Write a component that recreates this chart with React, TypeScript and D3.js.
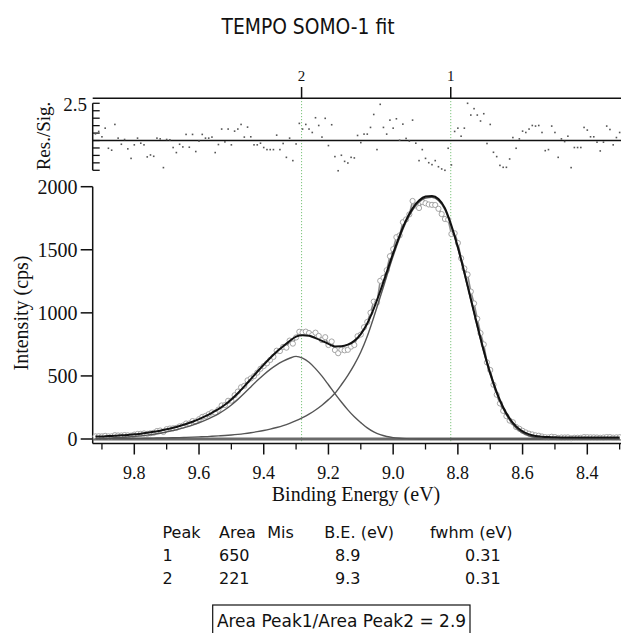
import React from 'react';
import * as d3 from 'd3';

const W = 621;
const H = 633;

// component fits on a 0.02 eV grid, from 9.92 eV down to 8.30 eV
const compStart = 9.92;
const compStep = 0.02;
const peak1Comp = [
  2, 2, 3, 3, 4, 4, 5, 5, 6, 7, 8, 9, 10, 11, 13, 15, 17, 19, 22, 25,
  28, 32, 37, 43, 50, 58, 67, 78, 91, 106, 124, 145, 170, 198, 230, 268, 312, 362, 430, 505,
  590, 690, 815, 965, 1125, 1290, 1450, 1595, 1720, 1815, 1878, 1910, 1915, 1890, 1818, 1680, 1510, 1310, 1100, 890,
  690, 510, 360, 240, 150, 88, 48, 25, 12, 6, 3, 1, 0, 0, 0, 0, 0, 0, 0, 0,
  0, 0,
];
const peak2Comp = [
  5, 6, 8, 10, 13, 16, 20, 25, 31, 38, 46, 56, 67, 80, 94, 110, 129, 150, 174, 200,
  232, 270, 314, 362, 413, 463, 510, 552, 588, 617, 640, 655, 641, 608, 558, 498, 430, 360, 293, 231,
  176, 130, 88, 56, 34, 20, 11, 6, 3, 1, 0, 0, 0, 0, 0, 0, 0, 0, 0, 0,
  0, 0, 0, 0, 0, 0, 0, 0, 0, 0, 0, 0, 0, 0, 0, 0, 0, 0, 0, 0,
  0, 0,
];
const background = 12;

// measured spectrum on a 0.01 eV grid, from 9.92 eV down to 8.30 eV
const dataStart = 9.92;
const dataStep = 0.01;
const intensity = [
  21, 22, 21, 25, 21, 21, 30, 28, 28, 31,
  29, 27, 35, 40, 41, 44, 41, 46, 49, 63,
  67, 56, 78, 83, 85, 88, 100, 106, 123, 123,
  142, 139, 157, 175, 183, 197, 211, 210, 233, 266,
  269, 303, 304, 347, 376, 410, 422, 465, 480, 498,
  526, 557, 578, 600, 627, 651, 700, 697, 730, 724,
  780, 756, 805, 850, 845, 851, 840, 824, 843, 817,
  784, 807, 745, 773, 705, 680, 708, 703, 707, 732,
  745, 815, 828, 886, 928, 1001, 1089, 1082, 1254, 1278,
  1338, 1449, 1505, 1600, 1614, 1719, 1741, 1780, 1887, 1851,
  1831, 1879, 1869, 1859, 1856, 1855, 1825, 1783, 1744, 1739,
  1625, 1631, 1554, 1433, 1352, 1304, 1169, 1075, 953, 839,
  750, 607, 547, 430, 351, 282, 223, 181, 146, 133,
  95, 81, 65, 52, 42, 36, 29, 26, 20, 14,
  13, 18, 15, 9, 12, 12, 13, 6, 10, 10,
  10, 15, 14, 13, 13, 12, 10, 12, 15, 15,
  11, 13, 14,
];
const residuals = [
  0.45, 0.61, 0.25, 0.83, -0.52, -0.65, 1.08, 0.16, -0.25, 0.07,
  -0.56, -1.2, -0.29, 0.16, -0.18, -0.29, -1.1, -0.97, -1.06, 0.16,
  0.11, -1.82, 0.07, 0.05, -0.47, -0.81, -0.25, -0.43, 0.41, -0.45,
  0.41, -0.74, -0.04, 0.41, 0.16, 0.16, 0.23, -0.81, -0.27, 0.77,
  -0.09, 0.77, -0.29, 0.63, 0.77, 1.08, 0.23, 0.9, 0.25, -0.29,
  -0.29, -0.18, -0.47, -0.61, -0.61, -0.61, 0.36, -0.61, -0.2, -1.13,
  0.16, -1.35, -0.23, 1.15, 0.77, 1.08, 0.77, 0.54, 1.53, 1.01,
  0.23, 1.49, -0.34, 1.06, -1.08, -2.03, -0.99, -1.4, -1.51, -1.13,
  -1.17, 0.34, -0.14, 0.43, 0.43, 0.88, 1.75, -0.61, 2.43, 0.88,
  0.43, 1.37, 0.83, 1.46, 0.02, 1.1, 0.14, -0.04, 1.37, -0.18,
  -1.35, -0.61, -1.2, -1.49, -1.62, -1.35, -1.76, -1.91, -2.0, -0.52,
  -1.64, 0.61, 0.83, 0.29, 0.83, 2.5, 1.71, 2.14, 1.71, 1.31,
  1.8, -0.2, 1.08, -0.79, -1.08, -1.67, -1.8, -1.8, -1.24, 0.2,
  -0.52, 0.11, 0.63, 0.54, 0.77, 1.01, 0.97, 1.01, 0.54, -0.68,
  -0.61, 0.97, 0.54, -1.13, 0.11, -0.07, 0.29, -1.82, -0.47, -0.47,
  -0.47, 0.88, 0.7, 0.25, 0.25, -0.11, -0.7, -0.11, 0.97, 0.74,
  -0.29, 0.2, 0.54,
];

const markerEnergies = [9.283, 8.822];
const markerLabels = ['2', '1'];

const xMajorTicks = [9.8, 9.6, 9.4, 9.2, 9.0, 8.8, 8.6, 8.4];
const xMinorTicks = [9.9, 9.7, 9.5, 9.3, 9.1, 8.9, 8.7, 8.5, 8.3];
const yTicks = [0, 500, 1000, 1500, 2000];
const resTicks = [-2, -1.5, -1, -0.5, 0, 0.5, 1, 1.5, 2, 2.5];
const resTickLabels = [2.5];

const tableHeader = ['Peak', 'Area', 'Mis', 'B.E. (eV)', 'fwhm (eV)'];
const tablePeaks = ['1', '2'];
const tableAreas = ['650', '221'];
const tableBE = ['8.9', '9.3'];
const tableFwhm = ['0.31', '0.31'];
const ratioText = 'Area Peak1/Area Peak2 = 2.9';
const title = 'TEMPO SOMO-1 fit';

const SERIF = '"Liberation Serif", "Times New Roman", serif';
const SANS = '"DejaVu Sans", Verdana, sans-serif';

export default function App() {
  const x = d3.scaleLinear().domain([9.8, 8.4]).range([134.3, 587.3]);
  const y = d3.scaleLinear().domain([0, 2000]).range([439, 186.7]);
  const yr = d3.scaleLinear().domain([-2, 2.5]).range([170.3, 103.3]);

  const compE = peak1Comp.map((_, i) => compStart - i * compStep);
  const dataE = intensity.map((_, i) => dataStart - i * dataStep);
  const fitVals = peak1Comp.map((v, i) => v + peak2Comp[i] + background);

  const line = d3
    .line<[number, number]>()
    .x((d) => x(d[0]))
    .y((d) => y(d[1]))
    .curve(d3.curveMonotoneX);
  const rawLine = d3
    .line<[number, number]>()
    .x((d) => x(d[0]))
    .y((d) => y(d[1]));

  const p1Path = line(compE.map((e, i) => [e, peak1Comp[i]]));
  const p2Path = line(compE.map((e, i) => [e, peak2Comp[i]]));
  const fitPath = line(compE.map((e, i) => [e, fitVals[i]]));
  const dataPath = rawLine(dataE.map((e, i) => [e, intensity[i]]));

  const xLeft = 92.7;
  const xRight = 621;
  const axisY = 443.5;

  return (
    <svg
      width={W}
      height={H}
      viewBox={`0 0 ${W} ${H}`}
      style={{ position: 'absolute', left: 0, top: 0, background: '#fff' }}
    >
      <rect x={0} y={0} width={W} height={H} fill="#fff" />
      {/* title */}
      <text
        x={308}
        y={34}
        fontFamily={SANS}
        fontSize={21}
        textAnchor="middle"
        fill="#111"
        textLength={173}
        lengthAdjust="spacingAndGlyphs"
      >
        {title}
      </text>

      {/* peak markers */}
      {markerEnergies.map((e, i) => (
        <g key={i}>
          <line
            x1={x(e)}
            x2={x(e)}
            y1={98}
            y2={442}
            stroke="#7cc47c"
            strokeWidth={1}
            strokeDasharray="1.2,1.8"
          />
          <line x1={x(e)} x2={x(e)} y1={87} y2={98} stroke="#111" strokeWidth={1.5} />
          <text x={x(e)} y={81} fontFamily={SERIF} fontSize={15} textAnchor="middle" fill="#111">
            {markerLabels[i]}
          </text>
        </g>
      ))}

      {/* residual panel */}
      <line x1={xLeft} x2={xRight} y1={98.3} y2={98.3} stroke="#111" strokeWidth={1.5} />
      <line x1={xLeft} x2={xRight} y1={yr(0)} y2={yr(0)} stroke="#111" strokeWidth={1.5} />
      <line x1={xLeft} x2={xLeft} y1={yr(2.5)} y2={yr(-2)} stroke="#111" strokeWidth={1.5} />
      {resTicks.map((t) => (
        <line key={t} x1={xLeft} x2={xLeft + 7} y1={yr(t)} y2={yr(t)} stroke="#111" strokeWidth={1.3} />
      ))}
      {resTickLabels.map((t) => (
        <text key={t} x={87} y={yr(t) + 7.5} fontFamily={SERIF} fontSize={19} textAnchor="end" fill="#111">
          {t.toFixed(1)}
        </text>
      ))}
      <text
        transform={`translate(50,136) rotate(-90)`}
        fontFamily={SERIF}
        fontSize={19}
        textAnchor="middle"
        fill="#111"
      >
        Res./Sig.
      </text>
      {residuals.map((r, i) => (
        <rect key={i} x={x(dataE[i]) - 0.8} y={yr(r) - 0.8} width={1.6} height={1.6} fill="#555" />
      ))}

      {/* main panel axes */}
      <line x1={xLeft} x2={xLeft} y1={y(2000)} y2={axisY} stroke="#111" strokeWidth={1.5} />
      {yTicks.map((t) => (
        <g key={t}>
          <line x1={xLeft - 12} x2={xLeft} y1={y(t)} y2={y(t)} stroke="#111" strokeWidth={1.5} />
          <text x={77.5} y={y(t) + 7} fontFamily={SERIF} fontSize={20} textAnchor="end" fill="#111">
            {t}
          </text>
        </g>
      ))}
      <text
        transform={`translate(28,313) rotate(-90)`}
        fontFamily={SERIF}
        fontSize={20}
        textAnchor="middle"
        fill="#111"
      >
        Intensity (cps)
      </text>

      <line x1={xLeft} x2={xRight} y1={axisY} y2={axisY} stroke="#111" strokeWidth={1.5} />
      {xMajorTicks.map((t) => (
        <g key={t}>
          <line x1={x(t)} x2={x(t)} y1={axisY} y2={axisY + 11} stroke="#111" strokeWidth={1.5} />
          <text x={x(t)} y={479} fontFamily={SERIF} fontSize={18} textAnchor="middle" fill="#111">
            {t.toFixed(1)}
          </text>
        </g>
      ))}
      {xMinorTicks.map((t) => (
        <line key={t} x1={x(t)} x2={x(t)} y1={axisY} y2={axisY + 6} stroke="#111" strokeWidth={1.3} />
      ))}
      <text x={356} y={501} fontFamily={SERIF} fontSize={20} textAnchor="middle" fill="#111">
        Binding Energy (eV)
      </text>

      {/* zero baseline */}
      <line x1={xLeft} x2={xRight} y1={y(0)} y2={y(0)} stroke="#6a6a6a" strokeWidth={3} />

      {/* data */}
      <path d={dataPath || ''} fill="none" stroke="#8c8c8c" strokeWidth={1.6} />
      {intensity.map((v, i) => (
        <circle
          key={i}
          cx={x(dataE[i])}
          cy={y(v)}
          r={2.6}
          fill="#fff"
          stroke="#9c9c9c"
          strokeWidth={0.9}
        />
      ))}

      {/* components and fit */}
      <path d={p1Path || ''} fill="none" stroke="#555" strokeWidth={1.4} />
      <path d={p2Path || ''} fill="none" stroke="#555" strokeWidth={1.4} />
      <path d={fitPath || ''} fill="none" stroke="#111" strokeWidth={2} />

      {/* table */}
      <g fontFamily={SANS} fontSize={16} fill="#111">
        <text x={162.5} y={538}>{tableHeader[0]}</text>
        <text x={219} y={538}>{tableHeader[1]}</text>
        <text x={267.3} y={538}>{tableHeader[2]}</text>
        <text x={324.3} y={538}>{tableHeader[3]}</text>
        <text x={430} y={538}>{tableHeader[4]}</text>
        {tablePeaks.map((p, i) => (
          <g key={p}>
            <text x={162.5} y={561 + i * 22.5}>{p}</text>
            <text x={219} y={561 + i * 22.5}>{tableAreas[i]}</text>
            <text x={335} y={561 + i * 22.5}>{tableBE[i]}</text>
            <text x={465} y={561 + i * 22.5}>{tableFwhm[i]}</text>
          </g>
        ))}
      </g>

      {/* ratio box */}
      <rect x={212.7} y={605} width={257.3} height={40} fill="none" stroke="#111" strokeWidth={1.2} />
      <text x={341.5} y={627} fontFamily={SANS} fontSize={17} textAnchor="middle" fill="#111">
        {ratioText}
      </text>
    </svg>
  );
}
